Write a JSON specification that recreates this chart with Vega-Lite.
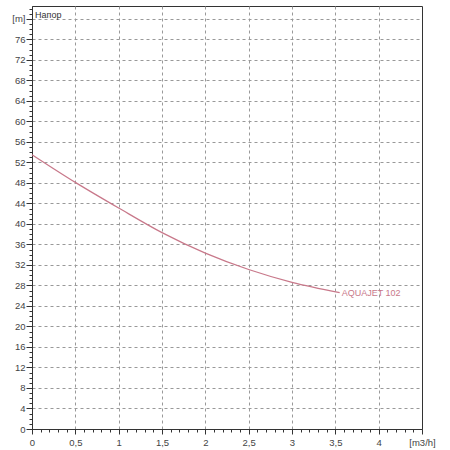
{
  "$schema": "https://vega.github.io/schema/vega-lite/v6.json",
  "width": 390,
  "height": 423,
  "autosize": {"type": "none"},
  "padding": {"left": 32, "top": 6, "right": 28, "bottom": 21},
  "background": "white",
  "datasets": {
    "curve": [
      {"q": 0, "h": 53.5},
      {"q": 0.5, "h": 48.1},
      {"q": 1.0, "h": 43.1},
      {"q": 1.5, "h": 38.3},
      {"q": 2.0, "h": 34.3},
      {"q": 2.5, "h": 31.1},
      {"q": 3.0, "h": 28.6},
      {"q": 3.55, "h": 26.6}
    ],
    "curveLabel": [{"q": 3.55, "h": 26.6, "text": "AQUAJET 102"}],
    "axisTitle": [{"q": 0, "h": 80, "text": "Напор"}]
  },
  "encoding": {
    "x": {
      "field": "q",
      "type": "quantitative",
      "title": null,
      "scale": {"domain": [0, 4.5], "nice": false, "zero": false},
      "axis": {
        "values": [0, 0.1, 0.2, 0.3, 0.4, 0.5, 0.6, 0.7, 0.8, 0.9, 1, 1.1, 1.2, 1.3, 1.4, 1.5, 1.6, 1.7, 1.8, 1.9, 2, 2.1, 2.2, 2.3, 2.4, 2.5, 2.6, 2.7, 2.8, 2.9, 3, 3.1, 3.2, 3.3, 3.4, 3.5, 3.6, 3.7, 3.8, 3.9, 4, 4.1, 4.2, 4.3, 4.4, 4.5],
        "labelExpr": "datum.value == 4.5 ? '[m3/h]' : (abs(datum.value * 2 - round(datum.value * 2)) < 0.01 ? replace(format(datum.value, ''), '.', ',') : '')",
        "labelOverlap": false,
        "labelFlush": false,
        "labelBound": false,
        "labelPadding": 3,
        "tickSize": {"condition": {"test": "abs(datum.value * 2 - round(datum.value * 2)) < 0.01", "value": 5}, "value": 3},
        "gridOpacity": {"condition": {"test": "abs(datum.value * 2 - round(datum.value * 2)) < 0.01 && datum.value > 0 && datum.value < 4.5", "value": 1}, "value": 0}
      }
    },
    "y": {
      "field": "h",
      "type": "quantitative",
      "title": null,
      "scale": {"domain": [0, 82.5], "nice": false, "zero": false},
      "axis": {
        "values": [0, 1, 2, 3, 4, 5, 6, 7, 8, 9, 10, 11, 12, 13, 14, 15, 16, 17, 18, 19, 20, 21, 22, 23, 24, 25, 26, 27, 28, 29, 30, 31, 32, 33, 34, 35, 36, 37, 38, 39, 40, 41, 42, 43, 44, 45, 46, 47, 48, 49, 50, 51, 52, 53, 54, 55, 56, 57, 58, 59, 60, 61, 62, 63, 64, 65, 66, 67, 68, 69, 70, 71, 72, 73, 74, 75, 76, 77, 78, 79, 80, 81, 82],
        "labelExpr": "datum.value == 80 ? '[m]' : (datum.value % 4 == 0 ? datum.label : '')",
        "labelOverlap": false,
        "labelFlush": false,
        "labelBound": false,
        "labelPadding": 1,
        "tickSize": {"condition": {"test": "datum.value % 4 == 0", "value": 6}, "value": 3},
        "gridOpacity": {"condition": {"test": "datum.value % 4 == 0 && datum.value > 0", "value": 1}, "value": 0}
      }
    }
  },
  "layer": [
    {
      "data": {"name": "curve"},
      "mark": {"type": "line", "interpolate": "monotone", "color": "#c8788a", "strokeWidth": 1.2}
    },
    {
      "data": {"name": "curveLabel"},
      "mark": {"type": "text", "align": "left", "baseline": "middle", "dx": 2, "color": "#c8788a", "fontSize": 9, "font": "Liberation Sans"},
      "encoding": {"text": {"field": "text"}}
    },
    {
      "data": {"name": "axisTitle"},
      "mark": {"type": "text", "align": "left", "baseline": "bottom", "dx": 3, "dy": 1, "color": "#333", "fontSize": 9, "font": "Liberation Sans"},
      "encoding": {"text": {"field": "text"}}
    }
  ],
  "config": {
    "view": {"stroke": "#333", "strokeWidth": 1},
    "axis": {
      "grid": true,
      "gridColor": "#999",
      "gridDash": [3, 3],
      "gridWidth": 1,
      "domainColor": "#333",
      "tickColor": "#333",
      "labelColor": "#444",
      "labelFont": "Liberation Sans",
      "labelFontSize": 9.5
    }
  }
}
